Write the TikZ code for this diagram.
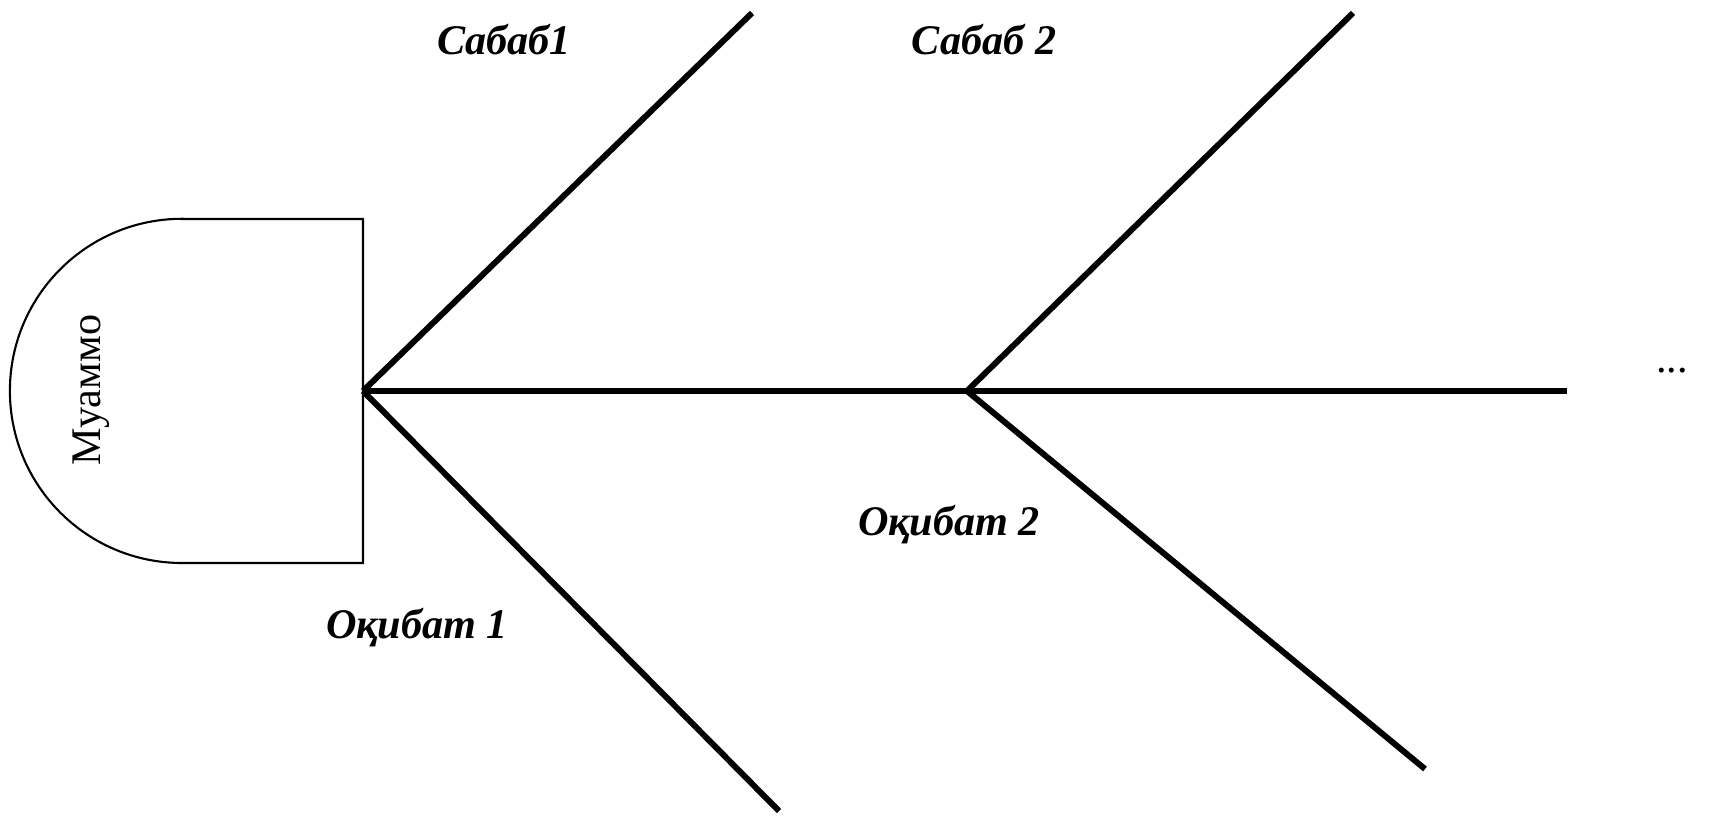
\documentclass[tikz,border=0pt]{standalone}
\usepackage{fontspec}
\setmainfont{Liberation Serif}
\usepackage{tikz}

\tikzset{
  bone/.style={line width=1.7pt},
  lbl/.style={font=\fontsize{12}{14}\selectfont\bfseries\itshape},
}

\begin{document}
\begin{tikzpicture}[x=0.01cm,y=-0.01cm,every node/.style={font=\fontsize{12}{14}\selectfont}]
  \useasboundingbox (0,0) rectangle (1710,822);
  % head of the fish
  \draw[line width=0.6pt] (182,219) -- (363,219) -- (363,563) -- (182,563)
    arc[start angle=270, end angle=90, x radius=1.72cm, y radius=1.72cm] -- cycle;
  \node[rotate=90] (problem) at (91,390) {Муаммо};
  \coordinate (head) at (363,391);
  \coordinate (j2) at (967,391);
  \coordinate (tail) at (1567,391);
  \coordinate (c1) at (752,13);
  \coordinate (e1) at (779,811);
  \coordinate (c2) at (1353,13);
  \coordinate (e2) at (1425,769);
  % bones
  \draw[bone] (head) -- (tail);
  \draw[bone] (head) -- (c1);
  \draw[bone] (head) -- (e1);
  \draw[bone] (j2) -- (c2);
  \draw[bone] (j2) -- (e2);
  \node[lbl] (cause1) at (504,40) {Сабаб1};
  \node[lbl] (cause2) at (984,40) {Сабаб 2};
  \node[lbl] (effect1) at (417,628) {Оқибат 1};
  \node[lbl] (effect2) at (949,525) {Оқибат 2};
  \node (more) at (1672,371) {...};
\end{tikzpicture}
\end{document}
